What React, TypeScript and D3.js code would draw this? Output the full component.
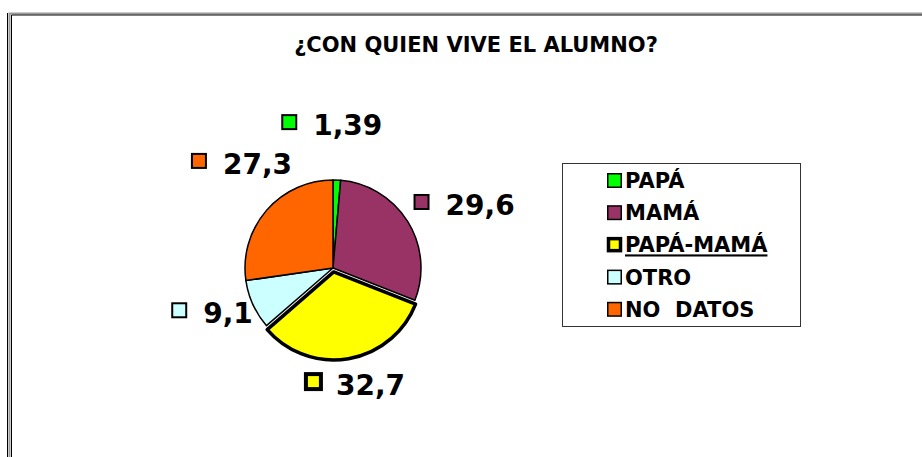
import { useEffect, useRef } from "react";
import * as d3 from "d3";

const width = 922;
const height = 457;

// data
const categories = ["PAPÁ", "MAMÁ", "PAPÁ-MAMÁ", "OTRO", "NO  DATOS"];
const values = [1.39, 29.6, 32.7, 9.1, 27.3];
const colors = ["#00FF00", "#993366", "#FFFF00", "#CCFFFF", "#FF6600"];
const title = "¿CON QUIEN VIVE EL ALUMNO?";

// layout
const cx = 333;
const cy = 268;
const radius = 88;
const explode = [0, 0, 4, 0, 0];
const labelRadius = 133;
const labelNudge = [[-7, -10], [18, 7], [-1, -14], [0, -10], [9, -17]];
const font = "'DejaVu Sans', Verdana, sans-serif";
const legend = { x: 562, y: 163, w: 238, h: 163, rowTop: 188, rowStep: 32.2 };

const fmt = (v: number) => String(v).replace(".", ",");

const App = () => {
  const ref = useRef<SVGSVGElement>(null);

  useEffect(() => {
    const svg = d3.select(ref.current);
    svg.selectAll("*").remove();

    // frame (double border, runs off the right/bottom edge)
    svg.append("path").attr("d", `M7.5 13 V${height}`).attr("stroke", "#000").attr("stroke-width", 1).attr("fill", "none");
    svg.append("path").attr("d", `M9.5 ${height} V13.5 H${width}`).attr("stroke", "#9a9a9a").attr("stroke-width", 2).attr("fill", "none");
    svg.append("path").attr("d", `M11.5 ${height} V15 H${width}`).attr("stroke", "#000").attr("stroke-width", 1).attr("fill", "none");

    svg.append("text")
      .attr("x", 476)
      .attr("y", 52)
      .attr("text-anchor", "middle")
      .attr("font-family", font)
      .attr("font-weight", "bold")
      .attr("font-size", 21)
      .text(title);

    const arcs = d3.pie<number>().sort(null).value(d => d)(values);
    const arc = d3.arc<d3.PieArcDatum<number>>().innerRadius(0).outerRadius(radius);
    const labelArc = d3.arc<d3.PieArcDatum<number>>().innerRadius(labelRadius).outerRadius(labelRadius);

    const gPie = svg.append("g").attr("transform", `translate(${cx},${cy})`);
    gPie.selectAll("path")
      .data(arcs)
      .join("path")
      .attr("d", arc)
      .attr("transform", (d, i) => {
        const a = (d.startAngle + d.endAngle) / 2;
        return `translate(${Math.sin(a) * explode[i]},${-Math.cos(a) * explode[i]})`;
      })
      .attr("fill", (d, i) => colors[i])
      .attr("stroke", "#000")
      .attr("stroke-width", (d, i) => (i === 2 ? 3.5 : 1.5))
      .attr("stroke-linejoin", "round");

    // data labels: small key square + value
    arcs.forEach((d, i) => {
      const [lx, ly] = labelArc.centroid(d);
      const g = svg.append("g");
      const big = i === 2;
      g.append("rect")
        .attr("x", big ? 2 : 1)
        .attr("y", big ? -21 : -20)
        .attr("width", big ? 15 : 14)
        .attr("height", big ? 15 : 14)
        .attr("fill", colors[i])
        .attr("stroke", "#000")
        .attr("stroke-width", big ? 4 : 2);
      const t = g.append("text")
        .attr("x", 32)
        .attr("y", 0)
        .attr("font-family", font)
        .attr("font-weight", "bold")
        .attr("font-size", 28)
        .text(fmt(values[i]));
      const tw = (t.node() as SVGTextElement).getComputedTextLength();
      const total = 32 + tw;
      const gx = cx + lx + labelNudge[i][0] - total / 2;
      const gy = cy + ly + labelNudge[i][1] + 10;
      g.attr("transform", `translate(${gx},${gy})`);
    });

    // legend
    svg.append("rect")
      .attr("x", legend.x + 0.5)
      .attr("y", legend.y + 0.5)
      .attr("width", legend.w)
      .attr("height", legend.h)
      .attr("fill", "#fff")
      .attr("stroke", "#333")
      .attr("stroke-width", 1);

    const rowY = d3.scaleLinear().domain([0, 1]).range([legend.rowTop, legend.rowTop + legend.rowStep]);
    const row = svg.append("g").selectAll("g")
      .data(categories)
      .join("g")
      .attr("transform", (d, i) => `translate(0,${rowY(i)})`);

    row.append("rect")
      .attr("x", (d, i) => (i === 2 ? 608.5 : 607.75))
      .attr("y", (d, i) => (i === 2 ? -13.75 : -14.25))
      .attr("width", (d, i) => (i === 2 ? 12 : 13.5))
      .attr("height", (d, i) => (i === 2 ? 12 : 13.5))
      .attr("fill", (d, i) => colors[i])
      .attr("stroke", "#000")
      .attr("stroke-width", (d, i) => (i === 2 ? 3.5 : 1.5));

    row.append("text")
      .attr("x", 625)
      .attr("y", 0)
      .attr("font-family", font)
      .attr("font-weight", "bold")
      .attr("font-size", 21)
      .style("white-space", "pre")
      .style("text-decoration", (d, i) => (i === 2 ? "underline" : "none"))
      .text(d => d);
  }, []);

  return (
    <div style={{ position: "absolute", left: 0, top: 0 }}>
      <svg ref={ref} width={width} height={height} style={{ display: "block", background: "#fff" }} />
    </div>
  );
};

export default App;
